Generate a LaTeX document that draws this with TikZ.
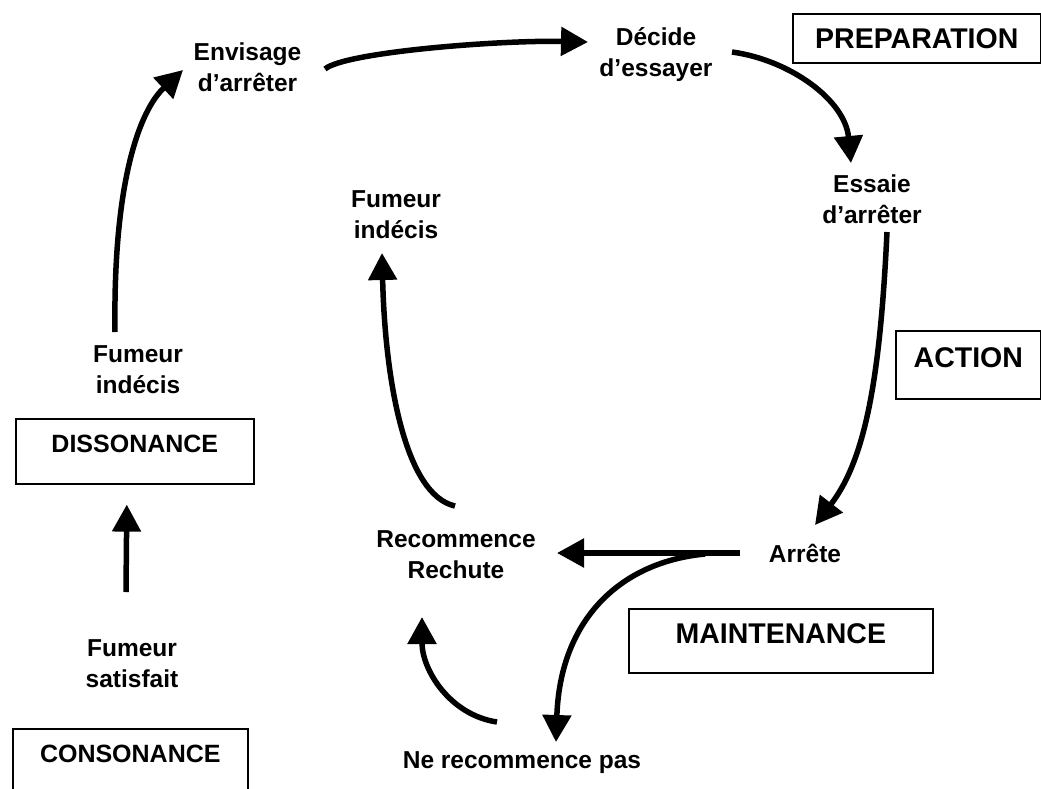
\documentclass[tikz,border=0pt]{standalone}
\usepackage{fontspec}
\setmainfont{Liberation Sans}
\usetikzlibrary{arrows.meta,calc}
\tikzset{
  lbl/.style={inner sep=0pt, align=center, anchor=base, font=\fontsize{24.5}{31}\selectfont\bfseries},
  stagebox/.style={draw, line width=1.6pt, inner sep=0pt, anchor=north west, align=center},
  bigfont/.style={font=\fontsize{28.5}{34}\selectfont\bfseries},
  smallfont/.style={font=\fontsize{25}{30}\selectfont\bfseries},
  flow/.style={line width=5.5pt, -{Triangle[length=27pt,width=28pt]}}
}
\begin{document}
\begin{tikzpicture}[x=1pt,y=-1pt]
\useasboundingbox (0,0) rectangle (1041,788);
% labels (base = baseline of last line)
\node[lbl] (env) at (247.5,91) {Envisage\\d’arrêter};
\node[lbl] (dec) at (656,76) {Décide\\d’essayer};
\node[lbl] (ess) at (872,223) {Essaie\\d’arrêter};
\node[lbl] (fim) at (396,238) {Fumeur\\indécis};
\node[lbl] (fil) at (138,393) {Fumeur\\indécis};
\node[lbl] (fs) at (132,687) {Fumeur\\satisfait};
\node[lbl] (rec) at (456,578) {Recommence\\Rechute};
\node[lbl] (arr) at (805,562) {Arrête};
\node[lbl] (ne) at (522,768) {Ne recommence pas};
% stage boxes
\node[stagebox, bigfont, minimum width=248pt, text height=35pt, text depth=14pt] (prep) at (792,13) {PREPARATION};
\node[stagebox, bigfont, minimum width=145pt, text height=37pt, text depth=31pt] (act) at (895,330) {ACTION};
\node[stagebox, smallfont, minimum width=238pt, text height=34pt, text depth=31pt] (dis) at (15,418) {DISSONANCE};
\node[stagebox, smallfont, minimum width=235pt, text height=34pt, text depth=60pt] (con) at (12,728) {CONSONANCE};
\node[stagebox, bigfont, minimum width=304pt, text height=35pt, text depth=29pt] (mai) at (628,608) {MAINTENANCE};
% connectors
\draw[flow] ($(fil.base)+(-23,-61)$) .. controls (113,180) and (140,110) .. ($(env.base)+(-64.5,-21)$);
\draw[flow] ($(env.base)+(77.5,-22)$) .. controls (345,52) and (500,40) .. ($(dec.base)+(-68,-34)$);
\draw[flow] ($(dec.base)+(76,-24)$) .. controls (790,60) and (845,100) .. ($(ess.base)+(-21,-60)$);
\draw[flow] ($(ess.base)+(15,9)$) .. controls (880,380) and (865,460) .. ($(arr.base)+(10,-37)$);
\draw[flow] ($(arr.base)+(-65,-9)$) -- ($(rec.base)+(101,-25)$);
\draw[flow] ($(arr.base)+(-100,-8)$) .. controls (620,562) and (560,620) .. ($(ne.base)+(34,-26)$);
\draw[flow] ($(rec.base)+(-1,-72)$) .. controls (405,495) and (385,380) .. ($(fim.base)+(-14,15)$);
\draw[flow] ($(ne.base)+(-25,-46)$) .. controls (450,715) and (422,670) .. ($(rec.base)+(-34,39)$);
\draw[flow] ($(fs.base)+(-6,-95)$) -- ($(dis.south)+(-8,20)$);
\end{tikzpicture}
\end{document}
